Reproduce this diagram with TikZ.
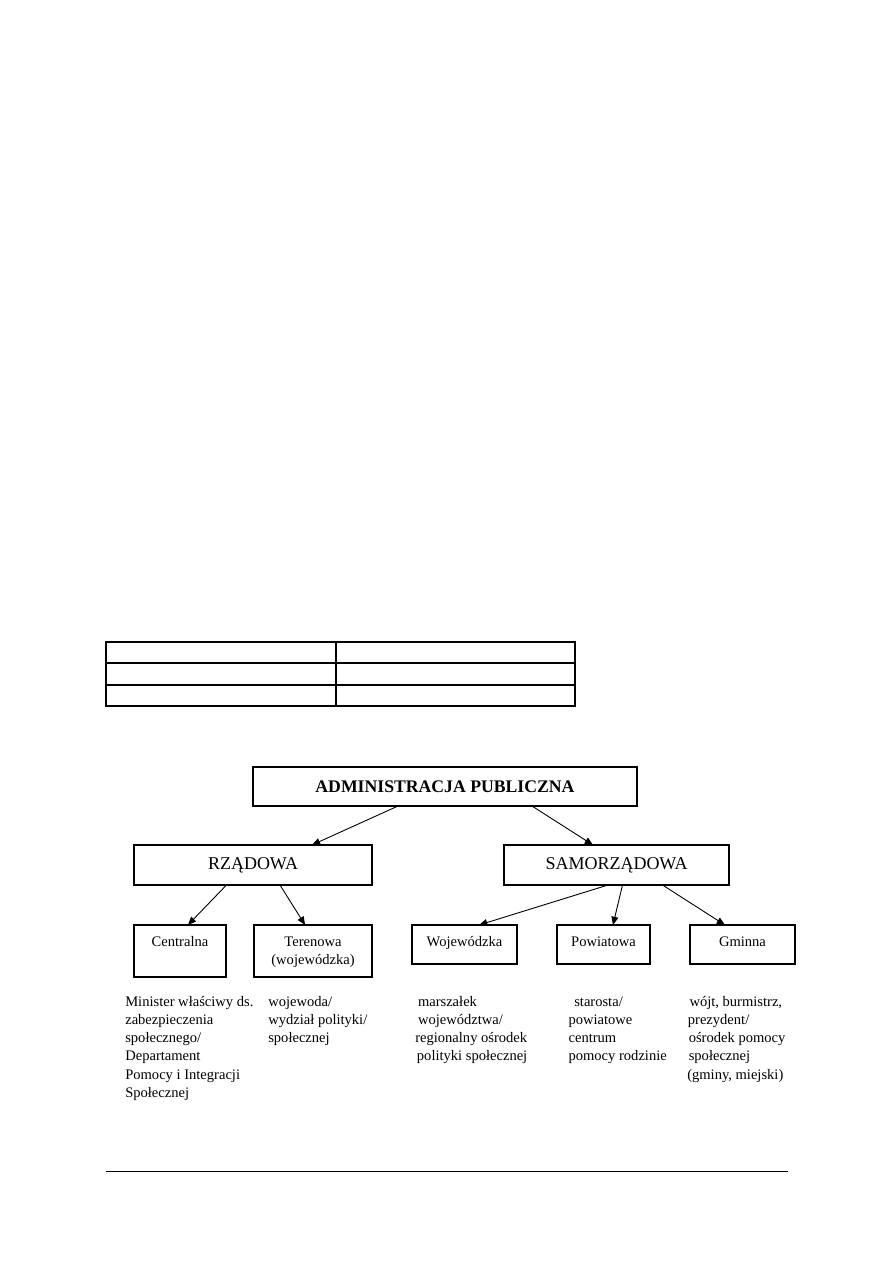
\documentclass[tikz,border=0pt]{standalone}
\usepackage{fontspec}
\setmainfont{Liberation Serif}
\usetikzlibrary{arrows.meta}
\tikzset{
  bx/.style={draw, line width=0.8pt, inner sep=0pt, outer sep=0pt, font=\fontsize{12}{14}\selectfont},
  bx3/.style={draw, line width=0.8pt, inner sep=0pt, outer sep=0pt},
  lab3/.style={anchor=north, inner sep=0pt, yshift=-6pt, align=center, font=\fontsize{9.7}{12.2}\selectfont},
  arr/.style={line width=0.6pt, -{Triangle[length=5.5pt,width=4.6pt]}},
  blk/.style={anchor=north west, inner sep=0pt, align=left, font=\fontsize{9.7}{12.2}\selectfont},
  tbl/.style={line width=0.8pt}
}
\newcommand{\fl}{\rule{0pt}{8pt}}
\begin{document}
\begin{tikzpicture}[x=0.6667pt, y=-0.6667pt]
\useasboundingbox (0,0) rectangle (893,1263);
% empty table
\draw[tbl] (106,642) rectangle (575,706);
\draw[tbl] (106,663) -- (575,663);
\draw[tbl] (106,685) -- (575,685);
\draw[tbl] (336,642) -- (336,706);
% boxes
\node[bx, minimum width=256pt, minimum height=26pt, font=\fontsize{11.8}{14}\selectfont] (top) at (445,786.5) {\textbf{ADMINISTRACJA PUBLICZNA}};
\node[bx, minimum width=158.7pt, minimum height=26.7pt] (rz) at (253,865) {RZĄDOWA};
\node[bx, minimum width=150pt, minimum height=26.7pt] (sam) at (616.5,865) {SAMORZĄDOWA};
\node[bx3, minimum width=61.3pt, minimum height=34.7pt, label={[lab3]north:\fl Centralna}] (cen) at (180,951) {};
\node[bx3, minimum width=78.7pt, minimum height=34.7pt, label={[lab3]north:\fl Terenowa\\(wojewódzka)}] (ter) at (313,951) {};
\node[bx3, minimum width=70pt, minimum height=26pt, label={[lab3]north:\fl Wojewódzka}] (woj) at (464.5,944.5) {};
\node[bx3, minimum width=62pt, minimum height=26pt, label={[lab3]north:\fl Powiatowa}] (pow) at (603.5,944.5) {};
\node[bx3, minimum width=70pt, minimum height=26pt, label={[lab3]north:\fl Gminna}] (gmi) at (742.5,944.5) {};
% arrows
\draw[arr] ([xshift=-31.3pt]top.south) -- ([xshift=39.3pt]rz.north);
\draw[arr] ([xshift=58pt]top.south) -- ([xshift=-15.7pt]sam.north);
\draw[arr] ([xshift=-17.7pt]rz.south) -- ([xshift=5.3pt]cen.north);
\draw[arr] ([xshift=18pt]rz.south) -- ([xshift=-5.3pt]ter.north);
\draw[arr] ([xshift=-5.7pt]sam.south) -- ([xshift=9.7pt]woj.north);
\draw[arr] ([xshift=4pt]sam.south) -- ([xshift=6.3pt]pow.north);
\draw[arr] ([xshift=30.7pt]sam.south) -- ([xshift=-11.7pt]gmi.north);
% descriptions
\node[blk] (d1) at (125,993.7) {\fl Minister właściwy ds.\\zabezpieczenia\\społecznego/\\Departament\\Pomocy i Integracji\\Społecznej};
\node[blk] (d2) at (268,993.7) {\fl wojewoda/\\wydział polityki/\\społecznej};
\node[blk] (d3) at (415,993.7) {\fl\hspace*{1.8pt}marszałek\\\hspace*{1.8pt}województwa/\\regionalny ośrodek\\\hspace*{1.1pt}polityki społecznej};
\node[blk] (d4) at (568.3,993.7) {\fl\hspace*{3.8pt}starosta/\\powiatowe\\centrum\\pomocy rodzinie};
\node[blk] (d5) at (687,993.7) {\fl\hspace*{1.5pt}wójt, burmistrz,\\\hspace*{0.4pt}prezydent/\\\hspace*{1pt}ośrodek pomocy\\\hspace*{1pt}społecznej\\(gminy, miejski)};
% footer rule
\draw[line width=0.8pt] (106,1171.5) -- (787.7,1171.5);
\end{tikzpicture}
\end{document}
